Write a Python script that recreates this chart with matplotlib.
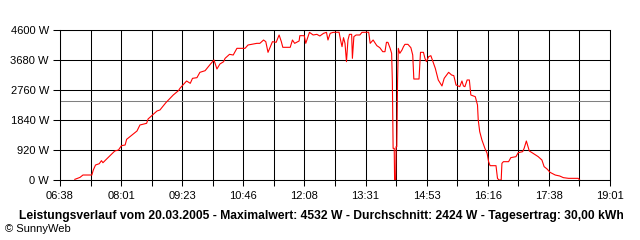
import numpy as np
import matplotlib
matplotlib.use('Agg')
import matplotlib.pyplot as plt

plt.rcParams['font.family'] = ['Liberation Sans', 'DejaVu Sans']
plt.rcParams['font.size'] = 8

# Zeit in Minuten seit Mitternacht, Leistung in W
zeit = [418, 425, 429, 441, 443, 446, 451, 454, 456, 461, 472, 477, 481, 486, 488,
        502, 506, 515, 517, 522, 529, 533, 541, 551, 558, 560, 569, 574, 577, 583,
        587, 594, 601, 606, 610, 614, 619, 621, 627, 632, 637, 648, 652, 664, 668,
        673, 676, 679, 685, 690, 694, 697, 699, 709, 712, 715, 721, 722, 728, 730,
        735, 740, 745, 749, 754, 758, 760, 763, 767, 775, 777, 779, 781, 783, 785,
        787, 789, 792, 793, 795, 798, 803, 806, 812, 815, 817, 821, 826, 830, 834,
        837, 839, 841, 844, 846, 847, 848, 849.5, 850, 851.5, 852, 853, 854, 855, 857,
        860, 862, 864, 868, 872, 874.5, 876, 883, 885, 889, 891, 893, 896, 899, 901,
        905, 909, 914, 917, 923, 927, 930, 933, 936, 938, 941, 943, 945, 948, 951,
        953, 959, 962, 963, 965, 968, 972, 975, 977, 979, 987, 989, 991, 994, 995,
        997, 1004, 1007, 1014, 1017, 1023, 1025, 1028, 1032, 1035, 1044, 1049, 1052,
        1056, 1060, 1067, 1073, 1078, 1085, 1098, 1100]
leistung = [20, 80, 153, 153, 307, 460, 500, 593, 530, 644, 889, 920, 1053, 1073, 1247,
            1503, 1687, 1738, 1871, 1973, 2116, 2147, 2371, 2607, 2740, 2811, 3036, 2965, 3118, 3138,
            3302, 3352, 3548, 3680, 3404, 3557, 3628, 3731, 3854, 3833, 4038, 4038, 4140, 4191, 4191,
            4293, 4242, 3915, 4242, 4222, 4447, 4242, 4069, 4069, 4293, 4191, 4263, 4426, 4426, 4191,
            4528, 4447, 4467, 4416, 4498, 4528, 4293, 4498, 4528, 4532, 4293, 4089, 4365, 4191, 3629,
            4293, 4467, 4467, 3731, 4396, 4447, 4447, 4528, 4532, 4532, 4191, 4293, 4120, 4058, 3935,
            3935, 4222, 4222, 4038, 3884, 3015, 971, 971, 0, 0, 1022, 1022, 3015, 4038, 3884,
            3987, 4089, 4160, 4160, 4058, 3833, 3097, 3097, 3915, 3915, 3731, 3629, 3782, 3812, 3680,
            3424, 3067, 2883, 3118, 3302, 3220, 3200, 2913, 2883, 2862, 3036, 2883, 2862, 3067, 3067,
            2607, 2555, 2300, 1840, 1482, 1227, 971, 818, 562, 439, 439, 51, 0, 0, 511,
            562, 562, 685, 716, 838, 869, 971, 1196, 889, 848, 716, 613, 409,
            337, 235, 153, 123, 72, 51, 51, 0]

durchschnitt = 2424
x_start, x_ende = 398, 1141
y_ticks = [0, 920, 1840, 2760, 3680, 4600]
x_labels = ['06:38', '08:01', '09:23', '10:46', '12:08', '13:31', '14:53', '16:16', '17:38', '19:01']
titel = ('Leistungsverlauf vom 20.03.2005 - Maximalwert: 4532 W - '
         'Durchschnitt: 2424 W - Tagesertrag: 30,00 kWh')

fig = plt.figure(figsize=(6.4, 2.4), dpi=100)
ax = fig.add_axes([60/640, 60/240, 550/640, 150/240])

ax.set_xlim(x_start, x_ende)
ax.set_ylim(0, 4600)

# 18 Rasterfelder, Beschriftung nur an jeder zweiten Linie
x_pos = np.linspace(x_start, x_ende, 19)
ax.set_xticks(x_pos)
ax.set_xticklabels([x_labels[k // 2] if k % 2 == 0 else '' for k in range(19)])
ax.set_yticks(y_ticks)
ax.set_yticklabels(['%d W' % v for v in y_ticks])

ax.grid(True, color='black', linewidth=0.75)
ax.set_axisbelow(True)
for s in ax.spines.values():
    s.set_linewidth(0.75)
ax.tick_params(axis='x', length=4, width=0.75, pad=4, labelsize=8)
ax.tick_params(axis='y', length=5, width=0.75, pad=3, labelsize=8)

ax.axhline(durchschnitt, color='#808080', linewidth=0.75)
ax.plot(zeit, leistung, color='red', linewidth=0.8)

fig.text(321/640, 1 - 216.5/240, titel, ha='center', va='center',
         fontsize=8.7, fontweight='bold')
fig.text(5/640, 1 - 229/240, '\u00a9 SunnyWeb', ha='left', va='center', fontsize=8)

fig.savefig('out.png', dpi=100, facecolor='white')
